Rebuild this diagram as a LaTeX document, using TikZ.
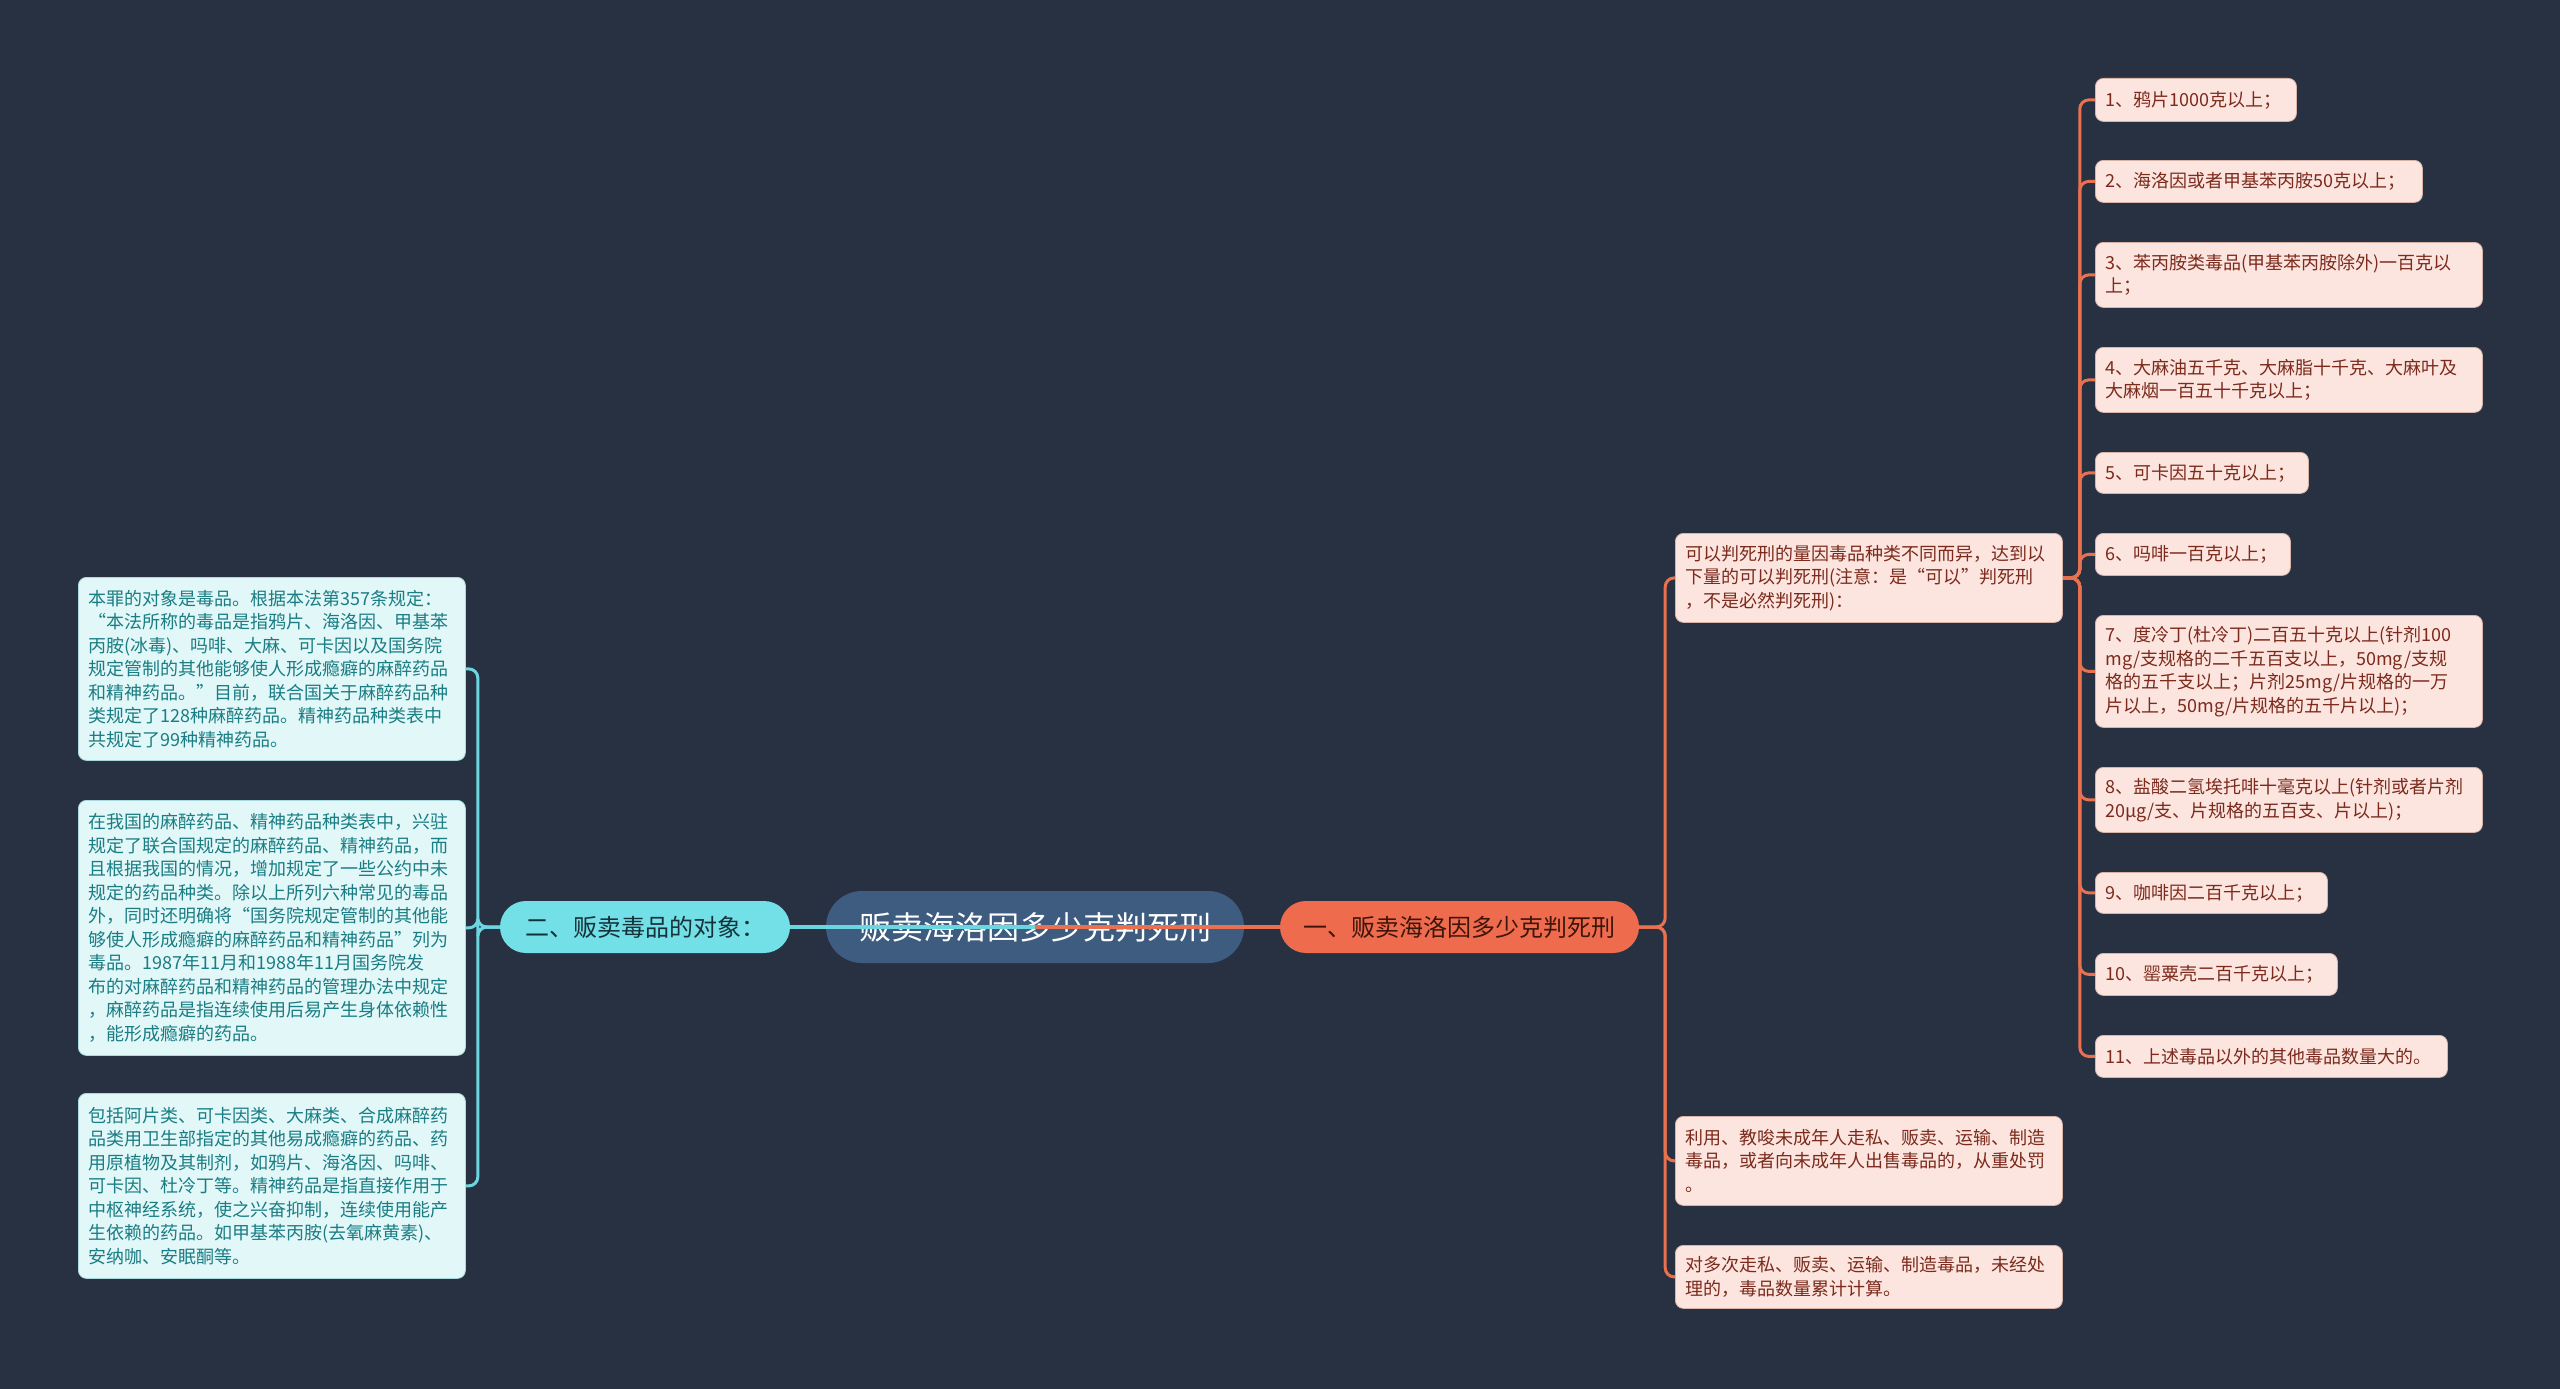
\documentclass[tikz,border=0pt]{standalone}
\usepackage{fontspec}
\setmainfont{Noto Sans CJK SC}
\usetikzlibrary{positioning}
\definecolor{bgcol}{HTML}{283142}
\definecolor{titlefill}{HTML}{3E5B80}
\definecolor{rmfill}{HTML}{EE6C4D}
\definecolor{rmtext}{HTML}{3E150B}
\definecolor{lmfill}{HTML}{72E0E6}
\definecolor{lmtext}{HTML}{15323A}
\definecolor{rfill}{HTML}{FDE5DF}
\definecolor{rtext}{HTML}{7B2A1C}
\definecolor{rborder}{HTML}{D8B4A8}
\definecolor{lfill}{HTML}{E1F7F8}
\definecolor{ltext}{HTML}{1A7D83}
\definecolor{lborder}{HTML}{A9D9DC}
\definecolor{orline}{HTML}{E8714F}
\definecolor{cyline}{HTML}{6CD6E0}
\pgfdeclarelayer{bg}
\pgfdeclarelayer{conn}
\pgfsetlayers{bg,conn,main}
\tikzset{
  rbox/.style={draw=rborder, line width=0.8pt, fill=rfill, text=rtext, rounded corners=8pt,
    anchor=north west, align=left, inner xsep=10pt, inner ysep=0pt,
    font=\fontsize{18pt}{23.5pt}\selectfont},
  lbox/.style={draw=lborder, line width=0.8pt, fill=lfill, text=ltext, rounded corners=8pt,
    anchor=north west, align=left, inner xsep=10pt, inner ysep=0pt,
    font=\fontsize{18pt}{23.5pt}\selectfont},
  bw/.style 2 args={text width=#1pt-20pt, minimum height=#2pt},
  rconn/.style={draw=orline, line width=3pt, rounded corners=9pt},
  lconn/.style={draw=cyline, line width=3pt, rounded corners=9pt},
}
\begin{document}
\begin{tikzpicture}[x=1pt,y=-1pt]
\begin{pgfonlayer}{bg}
\fill[bgcol] (0,0) rectangle (2560,1389);
\useasboundingbox (0,0) rectangle (2560,1389);
\node[fill=titlefill, rounded corners=36pt, minimum width=418pt, minimum height=72pt,
  inner sep=0pt, text=white, font=\fontsize{32pt}{36pt}\selectfont] (ct) at (1035,927) {贩卖海洛因多少克判死刑};
\end{pgfonlayer}

% main branches
\node[fill=rmfill, rounded corners=26pt, minimum width=359pt, minimum height=52pt, inner sep=0pt,
  text=rmtext, font=\fontsize{24pt}{28pt}\selectfont] (rm) at (1459.5,927) {一、贩卖海洛因多少克判死刑};
\node[fill=lmfill, rounded corners=26pt, minimum width=290pt, minimum height=52pt, inner sep=0pt,
  text=lmtext, font=\fontsize{24pt}{28pt}\selectfont] (lm) at (645,927) {二、贩卖毒品的对象：};

% left leaves
\node[lbox, bw={387}{183}] (a1) at (78,577) {本罪的对象是毒品。根据本法第357条规定：\\“本法所称的毒品是指鸦片、海洛因、甲基苯\\丙胺(冰毒)、吗啡、大麻、可卡因以及国务院\\规定管制的其他能够使人形成瘾癖的麻醉药品\\和精神药品。”目前，联合国关于麻醉药品种\\类规定了128种麻醉药品。精神药品种类表中\\共规定了99种精神药品。};
\node[lbox, bw={387}{255}] (a2) at (78,800) {在我国的麻醉药品、精神药品种类表中，兴驻\\规定了联合国规定的麻醉药品、精神药品，而\\且根据我国的情况，增加规定了一些公约中未\\规定的药品种类。除以上所列六种常见的毒品\\外，同时还明确将“国务院规定管制的其他能\\够使人形成瘾癖的麻醉药品和精神药品”列为\\毒品。1987年11月和1988年11月国务院发\\布的对麻醉药品和精神药品的管理办法中规定\\，麻醉药品是指连续使用后易产生身体依赖性\\，能形成瘾癖的药品。};
\node[lbox, bw={387}{185}] (a3) at (78,1093) {包括阿片类、可卡因类、大麻类、合成麻醉药\\品类用卫生部指定的其他易成瘾癖的药品、药\\用原植物及其制剂，如鸦片、海洛因、吗啡、\\可卡因、杜冷丁等。精神药品是指直接作用于\\中枢神经系统，使之兴奋抑制，连续使用能产\\生依赖的药品。如甲基苯丙胺(去氧麻黄素)、\\安纳咖、安眠酮等。};

% right middle boxes
\node[rbox, bw={387}{89}] (m1) at (1675,533) {可以判死刑的量因毒品种类不同而异，达到以\\下量的可以判死刑(注意：是“可以”判死刑\\，不是必然判死刑)：};
\node[rbox, bw={387}{89}] (m2) at (1675,1116) {利用、教唆未成年人走私、贩卖、运输、制造\\毒品，或者向未成年人出售毒品的，从重处罚\\。};
\node[rbox, bw={387}{63}] (m3) at (1675,1245) {对多次走私、贩卖、运输、制造毒品，未经处\\理的，毒品数量累计计算。};

% right leaves
\node[rbox, bw={201}{43}] (l1) at (2095,78) {1、鸦片1000克以上；};
\node[rbox, bw={327}{42}] (l2) at (2095,160) {2、海洛因或者甲基苯丙胺50克以上；};
\node[rbox, bw={387}{65}] (l3) at (2095,242) {3、苯丙胺类毒品(甲基苯丙胺除外)一百克以\\上；};
\node[rbox, bw={387}{65}] (l4) at (2095,347) {4、大麻油五千克、大麻脂十千克、大麻叶及\\大麻烟一百五十千克以上；};
\node[rbox, bw={213}{41}] (l5) at (2095,452) {5、可卡因五十克以上；};
\node[rbox, bw={195}{42}] (l6) at (2095,533) {6、吗啡一百克以上；};
\node[rbox, bw={387}{112}] (l7) at (2095,615) {7、度冷丁(杜冷丁)二百五十克以上(针剂100\\mg/支规格的二千五百支以上，50mg/支规\\格的五千支以上；片剂25mg/片规格的一万\\片以上，50mg/片规格的五千片以上)；};
\node[rbox, bw={387}{65}] (l8) at (2095,767) {8、盐酸二氢埃托啡十毫克以上(针剂或者片剂\\20μg/支、片规格的五百支、片以上)；};
\node[rbox, bw={232}{41}] (l9) at (2095,872) {9、咖啡因二百千克以上；};
\node[rbox, bw={242}{42}] (l10) at (2095,953) {10、罂粟壳二百千克以上；};
\node[rbox, bw={352}{42}] (l11) at (2095,1035) {11、上述毒品以外的其他毒品数量大的。};

\begin{pgfonlayer}{conn}
\draw[draw=cyline, line width=4pt] (ct.center) -- (lm.east);
\draw[draw=orline, line width=4.5pt] (ct.center) -- (rm.west);
\foreach \n in {a1,a2,a3}
  \draw[lconn] (lm.west) -- ++(-22,0) |- (\n.east);
\foreach \n in {m1,m2,m3}
  \draw[rconn] (rm.east) -- ++(26,0) |- (\n.west);
\foreach \n in {l1,l2,l3,l4,l5,l6,l7,l8,l9,l10,l11}
  \draw[rconn] (m1.east) -- ++(17,0) |- (\n.west);
\end{pgfonlayer}
\end{tikzpicture}
\end{document}
